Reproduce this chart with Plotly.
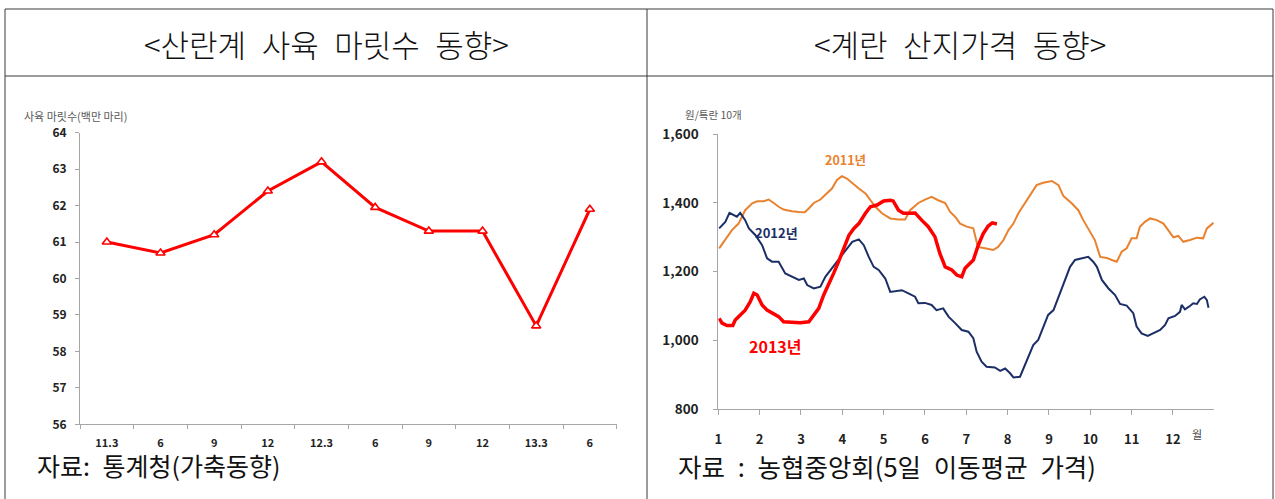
import plotly.graph_objects as go

# ---------------- data ----------------
left_labels = ["11.3", "6", "9", "12", "12.3", "6", "9", "12", "13.3", "6"]
left_values = [61.0, 60.7, 61.2, 62.4, 63.2, 61.95, 61.3, 61.3, 58.7, 61.9]

month_ticks = list(range(1, 13))
month_labels = [str(m) for m in month_ticks]
price_ticks = [800, 1000, 1200, 1400, 1600]

m2011 = [1.02, 1.17, 1.33, 1.49, 1.65, 1.82, 1.94, 2.10, 2.22, 2.34, 2.46, 2.58, 2.78, 2.95, 3.09,
         3.19, 3.31, 3.47, 3.63, 3.75, 3.87, 3.99, 4.11, 4.24, 4.40, 4.56, 4.68, 4.80, 4.96, 5.16,
         5.36, 5.52, 5.64, 5.84, 6.00, 6.16, 6.32, 6.49, 6.61, 6.73, 6.85, 7.01, 7.17, 7.28, 7.45,
         7.65, 7.77, 7.90, 8.02, 8.14, 8.26, 8.42, 8.58, 8.70, 8.86, 9.07, 9.23, 9.35, 9.55, 9.71,
         9.83, 9.95, 10.11, 10.24, 10.40, 10.52, 10.64, 10.76, 10.88, 11.00, 11.12, 11.20, 11.32,
         11.45, 11.61, 11.77, 11.89, 12.01, 12.13, 12.25, 12.41, 12.58, 12.73, 12.82, 12.98]
v2011 = [1268, 1292, 1321, 1340, 1379, 1399, 1405, 1405, 1410, 1400, 1389, 1381, 1376, 1374, 1373,
         1384, 1400, 1410, 1428, 1442, 1467, 1478, 1471, 1457, 1442, 1428, 1408, 1389, 1370, 1355,
         1352, 1352, 1379, 1400, 1410, 1418, 1408, 1400, 1374, 1360, 1340, 1331, 1326, 1272, 1268,
         1263, 1272, 1292, 1321, 1340, 1370, 1399, 1428, 1452, 1459, 1464, 1452, 1420, 1399, 1379,
         1350, 1326, 1292, 1243, 1240, 1234, 1229, 1258, 1268, 1297, 1297, 1331, 1345,
         1355, 1350, 1340, 1321, 1300, 1304, 1287, 1292, 1299, 1297, 1326, 1342]

m2012 = [1.02, 1.17, 1.27, 1.37, 1.45, 1.53, 1.65, 1.74, 1.90, 2.06, 2.18, 2.30, 2.46, 2.62, 2.78,
         2.95, 3.07, 3.15, 3.31, 3.47, 3.59, 3.75, 3.91, 4.07, 4.24, 4.40, 4.52, 4.64, 4.76, 4.88,
         5.04, 5.16, 5.28, 5.44, 5.60, 5.76, 5.84, 6.00, 6.16, 6.28, 6.44, 6.57, 6.73, 6.89, 7.05,
         7.17, 7.25, 7.37, 7.49, 7.69, 7.82, 7.94, 8.06, 8.14, 8.30, 8.38, 8.50, 8.62, 8.74, 8.86,
         8.98, 9.11, 9.27, 9.39, 9.51, 9.63, 9.79, 9.95, 10.07, 10.16, 10.28, 10.44, 10.60, 10.72,
         10.88, 11.04, 11.12, 11.24, 11.39, 11.53, 11.69, 11.81, 11.89, 12.05, 12.17, 12.21, 12.29,
         12.41, 12.49, 12.58, 12.65, 12.76, 12.82, 12.86]
v2012 = [1326, 1345, 1371, 1365, 1360, 1371, 1350, 1326, 1306, 1277, 1239, 1229, 1229, 1195, 1185,
         1176, 1180, 1161, 1151, 1156, 1185, 1210, 1234, 1258, 1287, 1294, 1277, 1243, 1214, 1205,
         1180, 1141, 1144, 1146, 1137, 1127, 1108, 1109, 1103, 1088, 1093, 1069, 1050, 1030, 1025,
         1006, 967, 938, 923, 921, 911, 918, 904, 892, 894, 918, 952, 986, 1001, 1035,
         1074, 1088, 1137, 1176, 1214, 1234, 1239, 1243, 1229, 1214, 1176, 1151, 1132, 1106,
         1101, 1079, 1040, 1020, 1013, 1022, 1030, 1045, 1064, 1071, 1083, 1103, 1090,
         1100, 1108, 1106, 1119, 1127, 1117, 1095]

m2013 = [1.02, 1.09, 1.21, 1.35, 1.41, 1.53, 1.65, 1.77, 1.86, 1.94, 2.06, 2.18, 2.30, 2.46, 2.58,
         2.78, 2.98, 3.19, 3.31, 3.43, 3.55, 3.67, 3.79, 3.91, 4.03, 4.16, 4.28, 4.40, 4.56, 4.68,
         4.84, 5.00, 5.16, 5.23, 5.36, 5.48, 5.60, 5.76, 5.92, 6.08, 6.24, 6.36, 6.49, 6.65, 6.77,
         6.89, 6.97, 7.09, 7.17, 7.29, 7.41, 7.53, 7.63, 7.74]
v2013 = [1064, 1050, 1043, 1043, 1059, 1074, 1088, 1112, 1137, 1132, 1103, 1088, 1079, 1069, 1054,
         1052, 1051, 1054, 1074, 1093, 1132, 1161, 1195, 1229, 1263, 1306, 1326, 1340, 1370, 1389,
         1394, 1406, 1408, 1406, 1379, 1370, 1370, 1371, 1350, 1331, 1302, 1253, 1214, 1205, 1190,
         1185, 1210, 1224, 1234, 1277, 1311, 1333, 1342, 1339]

# ---------------- layout helpers ----------------
W, H = 1275, 499


def px(x):
    return x / W


def py(y):
    return 1 - y / H


FONT = "Noto Sans CJK KR"
AXIS_COLOR = "#A6A6A6"
TICK_FONT = "#222222"
C2011 = "#E9822E"
C2012 = "#1B2F66"
C2013 = "#FF0000"
EN = "\u2002"

fig = go.Figure()

# left panel
fig.add_trace(go.Scatter(
    x=list(range(len(left_labels))), y=left_values, xaxis="x", yaxis="y",
    mode="lines+markers", line=dict(color="#FF0000", width=3),
    marker=dict(symbol="triangle-up", size=8, color="white",
                line=dict(color="#FF0000", width=1.6)),
    showlegend=False, hoverinfo="skip"))

# right panel
fig.add_trace(go.Scatter(x=m2011, y=v2011, xaxis="x2", yaxis="y2", mode="lines",
                         line=dict(color=C2011, width=2), showlegend=False, hoverinfo="skip"))
fig.add_trace(go.Scatter(x=m2012, y=v2012, xaxis="x2", yaxis="y2", mode="lines",
                         line=dict(color=C2012, width=2), showlegend=False, hoverinfo="skip"))
fig.add_trace(go.Scatter(x=m2013, y=v2013, xaxis="x2", yaxis="y2", mode="lines",
                         line=dict(color=C2013, width=3.5), showlegend=False, hoverinfo="skip"))

fig.update_layout(
    template="none",
    width=W, height=H, autosize=False,
    margin=dict(l=0, r=0, t=0, b=0, pad=0, autoexpand=False),
    paper_bgcolor="white", plot_bgcolor="white",
    font=dict(family=FONT),
    xaxis=dict(
        domain=[px(80), px(616.7)], range=[-0.5, 9.5], anchor="y", automargin=False,
        tickmode="array", tickvals=list(range(len(left_labels))), ticktext=left_labels,
        ticks="", showline=True, linecolor=AXIS_COLOR, linewidth=1,
        showgrid=False, zeroline=False, fixedrange=True,
        tickfont=dict(size=11, color=TICK_FONT, family=FONT, weight="bold"),
        ticklabelstandoff=8,
        minor=dict(tickmode="linear", tick0=-0.5, dtick=1, ticks="outside",
                   ticklen=4, tickcolor=AXIS_COLOR, showgrid=False),
    ),
    yaxis=dict(
        domain=[py(424.3), py(132.7)], range=[56, 64], anchor="x", automargin=False,
        tickmode="linear", tick0=56, dtick=1, ticks="outside", ticklen=4,
        tickcolor=AXIS_COLOR, showline=True, linecolor=AXIS_COLOR, linewidth=1,
        showgrid=False, zeroline=False, fixedrange=True,
        tickfont=dict(size=12, color=TICK_FONT, family=FONT, weight="bold"),
        ticklabelstandoff=6,
    ),
    xaxis2=dict(
        domain=[px(718.3), px(1214.3)], range=[1, 13], anchor="y2", automargin=False,
        tickmode="array", tickvals=month_ticks, ticktext=month_labels,
        ticks="outside", ticklen=5, tickcolor=AXIS_COLOR,
        showline=True, linecolor=AXIS_COLOR, linewidth=1,
        showgrid=False, zeroline=False, fixedrange=True,
        tickfont=dict(size=13, color=TICK_FONT, family=FONT, weight="bold"),
        ticklabelstandoff=13,
    ),
    yaxis2=dict(
        domain=[py(409), py(134.3)], range=[800, 1600], anchor="x2", automargin=False,
        tickmode="array", tickvals=price_ticks, tickformat=",",
        ticks="outside", ticklen=4, tickcolor=AXIS_COLOR,
        showline=True, linecolor=AXIS_COLOR, linewidth=1,
        showgrid=False, zeroline=False, fixedrange=True,
        tickfont=dict(size=13.5, color=TICK_FONT, family=FONT, weight="bold"),
        ticklabelstandoff=12,
    ),
)

# table borders (no bottom line visible in the reference)
line_style = dict(color="#3A3A3A", width=1)
border_lines = [
    (5, 9, 1273, 9),       # top
    (5, 76, 1273, 76),     # header separator
    (5, 9, 5, 499),        # left
    (1273, 9, 1273, 499),  # right
    (647, 9, 647, 499),    # middle divider
]
fig.update_layout(shapes=[
    dict(type="line", xref="paper", yref="paper", x0=px(a), y0=py(b), x1=px(c), y1=py(d),
         line=line_style)
    for a, b, c, d in border_lines
])

ann = []
# panel titles
ann.append(dict(text="&lt;산란계" + EN + "사육" + EN + "마릿수" + EN + "동향&gt;",
                xref="paper", yref="paper",
                x=px(326), y=py(44), xanchor="center", yanchor="middle", showarrow=False,
                font=dict(size=31, color="#111111", family=FONT, weight=300)))
ann.append(dict(text="&lt;계란" + EN + "산지가격" + EN + "동향&gt;", xref="paper", yref="paper",
                x=px(960), y=py(44), xanchor="center", yanchor="middle", showarrow=False,
                font=dict(size=31, color="#111111", family=FONT, weight=300)))
# axis unit titles
ann.append(dict(text="사육 마릿수(백만 마리)", xref="paper", yref="paper",
                x=px(22), y=py(126), xanchor="left", yanchor="bottom", showarrow=False,
                font=dict(size=11, color="#595959", family=FONT)))
ann.append(dict(text="원/특란 10개", xref="paper", yref="paper",
                x=px(683), y=py(114), xanchor="left", yanchor="middle", showarrow=False,
                font=dict(size=10.5, color="#595959", family=FONT)))
ann.append(dict(text="월", xref="paper", yref="paper",
                x=px(1197), y=py(434), xanchor="center", yanchor="middle", showarrow=False,
                font=dict(size=11, color="#444444", family=FONT)))
# series labels
ann.append(dict(text="2011년", xref="x2", yref="y2", x=4.07, y=1528,
                xanchor="center", yanchor="middle", showarrow=False,
                font=dict(size=12.5, color=C2011, family=FONT, weight="bold")))
ann.append(dict(text="2012년", xref="x2", yref="y2", x=2.40, y=1313,
                xanchor="center", yanchor="middle", showarrow=False,
                font=dict(size=13, color=C2012, family=FONT, weight="bold")))
ann.append(dict(text="2013년", xref="x2", yref="y2", x=2.37, y=984,
                xanchor="center", yanchor="middle", showarrow=False,
                font=dict(size=16, color=C2013, family=FONT, weight="bold")))
# sources
ann.append(dict(text="자료:" + EN + "통계청(가축동향)", xref="paper", yref="paper",
                x=px(35), y=py(465), xanchor="left", yanchor="middle", showarrow=False,
                font=dict(size=25, color="#111111", family=FONT)))
ann.append(dict(text="자료" + EN + ":" + EN + "농협중앙회(5일" + EN + "이동평균" + EN + "가격)",
                xref="paper", yref="paper",
                x=px(676), y=py(465), xanchor="left", yanchor="middle", showarrow=False,
                font=dict(size=25.5, color="#111111", family=FONT)))
fig.update_layout(annotations=ann)

fig.write_html("out.html", include_plotlyjs=True, full_html=True,
               config={"displayModeBar": False, "staticPlot": True},
               post_script="document.body.style.margin='0px';"
                           "document.documentElement.style.overflow='hidden';")
